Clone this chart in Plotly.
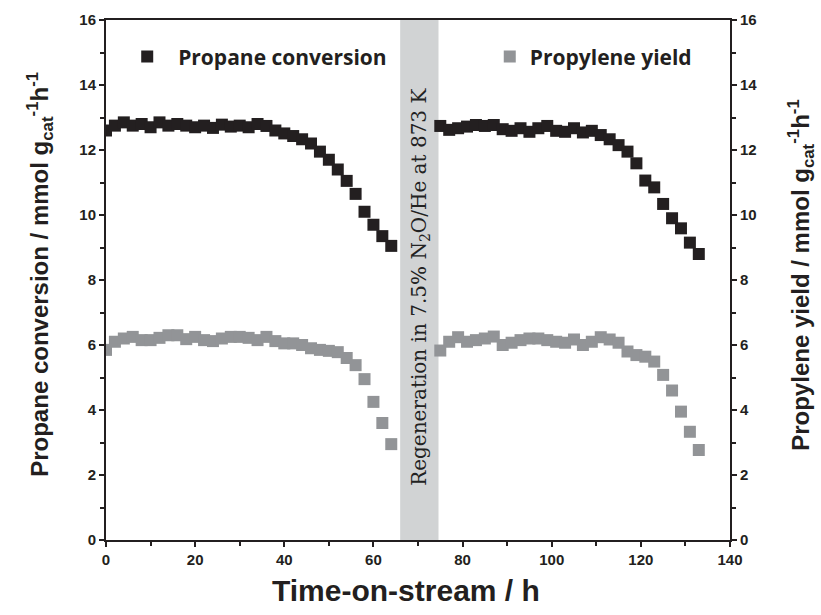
import plotly.graph_objects as go

# ---- data ----
t1 = [0, 2, 4, 6, 8, 10, 12, 14, 16, 18, 20, 22, 24, 26, 28, 30, 32, 34, 36, 38,
      40, 42, 44, 46, 48, 50, 52, 54, 56, 58, 60, 62, 64]
conv1 = [12.6, 12.75, 12.85, 12.75, 12.8, 12.7, 12.85, 12.75, 12.8, 12.75, 12.7, 12.75,
         12.68, 12.78, 12.72, 12.75, 12.7, 12.8, 12.74, 12.6, 12.51, 12.43, 12.33, 12.2,
         11.95, 11.7, 11.4, 11.05, 10.65, 10.1, 9.7, 9.35, 9.05]
yield1 = [5.85, 6.1, 6.2, 6.25, 6.15, 6.15, 6.22, 6.3, 6.3, 6.18, 6.25, 6.15, 6.12, 6.2,
          6.25, 6.25, 6.22, 6.15, 6.25, 6.12, 6.05, 6.05, 6.0, 5.9, 5.85, 5.82, 5.78, 5.6,
          5.38, 4.95, 4.25, 3.6, 2.95]

t2 = [75, 77, 79, 81, 83, 85, 87, 89, 91, 93, 95, 97, 99, 101, 103, 105, 107, 109, 111,
      113, 115, 117, 119, 121, 123, 125, 127, 129, 131, 133]
conv2 = [12.74, 12.62, 12.67, 12.72, 12.77, 12.74, 12.77, 12.64, 12.59, 12.67, 12.56, 12.67,
         12.74, 12.59, 12.56, 12.67, 12.54, 12.59, 12.46, 12.33, 12.15, 11.95, 11.59, 11.06,
         10.85, 10.34, 9.9, 9.59, 9.15, 8.8]
yield2 = [5.83, 6.1, 6.24, 6.1, 6.15, 6.2, 6.26, 6.0, 6.07, 6.15, 6.2, 6.2, 6.15, 6.1,
          6.07, 6.17, 6.0, 6.1, 6.24, 6.17, 6.07, 5.8, 5.69, 5.64, 5.49, 5.08, 4.6, 3.95,
          3.33, 2.77]

regen_start, regen_end = 66, 74.6
regen_label = "Regeneration in 7.5% N<sub>2</sub>O/He at 873 K"
x_title = "Time-on-stream / h"
y_title = "Propane conversion / mmol g<sub>cat</sub><sup>-1</sup>h<sup>-1</sup>"
y2_title = "Propylene yield / mmol g<sub>cat</sub><sup>-1</sup>h<sup>-1</sup>"
NB = "\u00a0\u00a0"

BLACK = "#231f20"
GRAY = "#929497"
TICKFONT = dict(family="Liberation Sans, Arial", size=15, color=BLACK, weight="bold")
TITLEFONT = dict(family="Liberation Sans, Arial", size=24, color=BLACK, weight="bold")
LEGFONT = dict(family="Open Sans, Liberation Sans", size=21, color=BLACK, weight="bold")

fig = go.Figure()
fig.add_trace(go.Scatter(x=t1 + [None] + t2, y=conv1 + [None] + conv2, mode="markers",
                         name=NB + "Propane conversion", legend="legend",
                         marker=dict(symbol="square", size=12, color=BLACK),
                         xaxis="x", yaxis="y"))
fig.add_trace(go.Scatter(x=t1 + [None] + t2, y=yield1 + [None] + yield2, mode="markers",
                         name="Propylene yield", legend="legend2",
                         marker=dict(symbol="square", size=12, color=GRAY),
                         xaxis="x", yaxis="y2"))

fig.add_shape(type="rect", xref="x", yref="y", x0=regen_start, x1=regen_end, y0=0, y1=16,
              fillcolor="#d1d3d4", line=dict(width=0), layer="below")
fig.add_annotation(x=(regen_start + regen_end) / 2, y=7.8, xref="x", yref="y",
                   text=regen_label, textangle=-90, showarrow=False,
                   xanchor="center", yanchor="middle",
                   font=dict(family="DejaVu Serif, Liberation Serif", size=20, color="#222222"))

# axis titles as annotations for exact placement
fig.add_annotation(x=0, y=0.51, xref="paper", yref="paper", xshift=-66, text=y_title,
                   textangle=-90, showarrow=False, xanchor="center", yanchor="middle",
                   font=TITLEFONT)
fig.add_annotation(x=1, y=0.51, xref="paper", yref="paper", xshift=71, text=y2_title,
                   textangle=-90, showarrow=False, xanchor="center", yanchor="middle",
                   font=TITLEFONT)
fig.add_annotation(x=0.48, y=0, xref="paper", yref="paper", yshift=-50, text=x_title,
                   showarrow=False, xanchor="center", yanchor="middle",
                   font=dict(family="Liberation Sans, Arial", size=30, color=BLACK, weight="bold"))

common_y = dict(range=[0, 16], dtick=2, showgrid=False, zeroline=False, tickfont=TICKFONT,
                automargin=False)
tick_out = dict(ticks="outside", ticklen=5, tickwidth=1.5, tickcolor=BLACK)
tick_in = dict(ticks="inside", ticklen=5, tickwidth=1.5, tickcolor=BLACK)

fig.update_layout(
    width=821, height=615,
    margin=dict(l=106, r=91, t=20, b=75),
    paper_bgcolor="white", plot_bgcolor="white",
    showlegend=True,
    legend=dict(x=0.034, y=0.929, xanchor="left", yanchor="middle",
                bgcolor="rgba(0,0,0,0)", font=LEGFONT, itemsizing="constant"),
    legend2=dict(x=0.615, y=0.929, xanchor="left", yanchor="middle",
                 bgcolor="rgba(0,0,0,0)", font=LEGFONT, itemsizing="constant"),
    xaxis=dict(range=[0, 140], dtick=20, showgrid=False, zeroline=False, automargin=False,
               showline=True, linecolor=BLACK, linewidth=2, mirror=True,
               **tick_out,
               minor=dict(dtick=10, ticks="outside", ticklen=4, tickcolor=BLACK, tickwidth=1.5),
               tickfont=TICKFONT),
    xaxis2=dict(range=[0, 140], overlaying="x", matches="x", side="bottom", anchor="y",
                dtick=20, showgrid=False, zeroline=False, showline=False, **tick_in,
                minor=dict(dtick=10, ticks="inside", ticklen=4, tickcolor=BLACK, tickwidth=1.5),
                showticklabels=False),
    yaxis=dict(**common_y, showline=True, linecolor=BLACK, linewidth=2, **tick_out,
               minor=dict(dtick=1, ticks="outside", ticklen=4, tickcolor=BLACK, tickwidth=1.5)),
    yaxis2=dict(**common_y, overlaying="y", side="right", anchor="x",
                showline=True, linecolor=BLACK, linewidth=2, **tick_out,
                minor=dict(dtick=1, ticks="outside", ticklen=4, tickcolor=BLACK, tickwidth=1.5)),
    yaxis3=dict(range=[0, 16], overlaying="y", side="left", anchor="x", dtick=2,
                showgrid=False, zeroline=False, showline=False, showticklabels=False, **tick_in,
                minor=dict(dtick=1, ticks="inside", ticklen=4, tickcolor=BLACK, tickwidth=1.5)),
    yaxis4=dict(range=[0, 16], overlaying="y", side="right", anchor="x", dtick=2,
                showgrid=False, zeroline=False, showline=False, showticklabels=False, **tick_in,
                minor=dict(dtick=1, ticks="inside", ticklen=4, tickcolor=BLACK, tickwidth=1.5)),
)

fig.write_html("out.html")
